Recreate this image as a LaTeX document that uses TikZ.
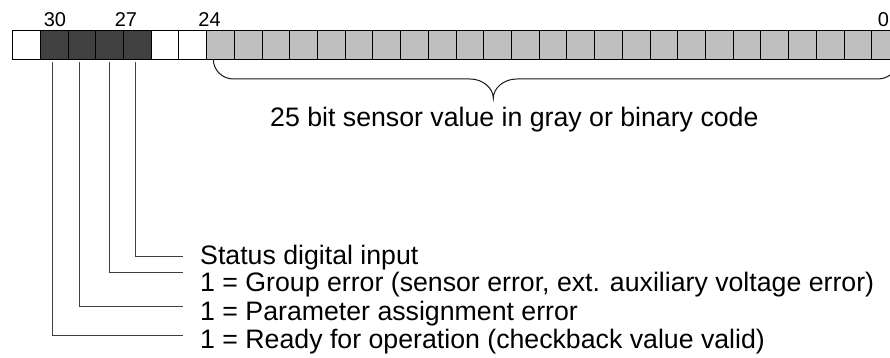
\documentclass[tikz,border=0pt]{standalone}
\usepackage{fontspec}
\setmainfont{Liberation Sans}
\begin{document}
\begin{tikzpicture}[x=1pt,y=-1pt,
  cell/.style={draw=black,line width=1pt,minimum width=27.71pt,minimum height=28.3pt,inner sep=0pt,outer sep=0pt},
  wcell/.style={cell,fill=white},
  dcell/.style={cell,fill=black!75},
  gcell/.style={cell,fill=black!25},
  bitno/.style={font=\fontsize{20}{22}\selectfont,inner sep=0pt,anchor=base},
  desc/.style={font=\fontsize{26.7}{30}\selectfont,inner sep=0pt,anchor=base west},
  lead/.style={draw=black!75,line width=1pt},
  bracestyle/.style={draw=black!90,line width=1pt}]
\useasboundingbox (0,0) rectangle (890,358);
\clip (0,0) rectangle (890,358);
% cells: bit 31 ... bit 0
\foreach \i in {0,...,31}{
  \pgfmathtruncatemacro{\b}{31-\i}
  \pgfmathsetmacro{\cx}{12.7+(\i+0.5)*27.71}
  \ifnum\b=31 \def\st{wcell}\else
  \ifnum\b>26 \def\st{dcell}\else
  \ifnum\b>24 \def\st{wcell}\else \def\st{gcell}\fi\fi\fi
  \node[\st] (c\b) at (\cx,45.15) {};
}
% bit numbers
\node[bitno] (n30) at (55,26.7) {30};
\node[bitno] (n27) at (126,26.7) {27};
\node[bitno] (n24) at (209.5,26.7) {24};
\node[bitno] (n0) at (883.5,26.7) {0};
% brace
\draw[bracestyle] (213.3,59.3) .. controls (213.3,70) and (222.3,79) .. (233.3,79)
  -- (470,79) .. controls (482.7,79) and (493.3,88) .. (493.3,98.3)
  .. controls (493.3,88) and (503.9,79) .. (516.6,79)
  -- (878,79) .. controls (889,79) and (898,70) .. (898,59.3);
\node[desc] (sv) at (270,126.7) {25 bit sensor value in gray or binary code};
% descriptions
\node[desc] (t1) at (200,264) {Status digital input};
\node[desc] (t2) at (200,291.7) {1 = Group error (sensor error, ext. auxiliary voltage error)};
\node[desc] (t3) at (200,320) {1 = Parameter assignment error};
\node[desc] (t4) at (200,348.3) {1 = Ready for operation (checkback value valid)};
\coordinate (e1) at (183.3,256);
\coordinate (e2) at (183.3,272.7);
\coordinate (e3) at (183.3,306.7);
\coordinate (e4) at (183.3,335);
\draw[lead] ([xshift=-1.5pt]c27.south) ++(0,3) |- (e1);
\draw[lead] (c28.south) ++(0,3) |- (e2);
\draw[lead] ([xshift=-2pt,yshift=-3pt]c29.south) |- (e3);
\draw[lead] ([xshift=-1.5pt,yshift=-3pt]c30.south) |- (e4);
\end{tikzpicture}
\end{document}
